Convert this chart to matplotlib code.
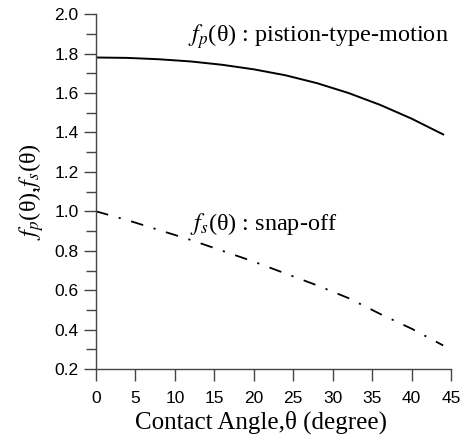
import numpy as np
from matplotlib import pyplot as plt

# data
theta = [0, 4, 8, 12, 16, 20, 24, 28, 32, 36, 40, 44]
f_p = [1.780, 1.778, 1.771, 1.760, 1.743, 1.720, 1.690, 1.650, 1.600, 1.540, 1.470, 1.390]
f_s = [1.000, 0.955, 0.905, 0.855, 0.800, 0.745, 0.685, 0.625, 0.560, 0.480, 0.405, 0.320]

x_ticks = [0, 5, 10, 15, 20, 25, 30, 35, 40, 45]
y_ticks = [0.2, 0.4, 0.6, 0.8, 1.0, 1.2, 1.4, 1.6, 1.8, 2.0]

plt.rcParams['mathtext.fontset'] = 'stix'
serif = ['Liberation Serif', 'DejaVu Serif']
sans = ['Liberation Sans', 'DejaVu Sans']

fig = plt.figure(figsize=(4.65, 4.41), dpi=100)
ax = fig.add_axes([0.2065, 0.163, 0.7635, 0.805])

ax.plot(theta, f_p, color='black', lw=1.4)
ax.plot(theta, f_s, color='black', lw=1.3, dashes=(7, 6, 1.2, 6))

ax.set_xlim(0, 45)
ax.set_ylim(0.2, 2.0)
ax.set_xticks(x_ticks)
ax.set_yticks(y_ticks)
ax.set_yticklabels(['%.1f' % v for v in y_ticks])
ax.set_yticks(np.arange(0.3, 2.0, 0.2), minor=True)

for s in ['top', 'right']:
    ax.spines[s].set_visible(False)
for s in ['left', 'bottom']:
    ax.spines[s].set_color('#444444')
    ax.spines[s].set_linewidth(1.0)

ax.tick_params(which='both', direction='out', color='#444444', width=1.0)
ax.tick_params(which='major', length=8.6, labelsize=12.5)
ax.tick_params(axis='y', which='major', pad=4)
ax.tick_params(axis='x', which='major', pad=7)
ax.tick_params(which='minor', length=7)
for lab in ax.get_xticklabels() + ax.get_yticklabels():
    lab.set_family(sans)

ax.set_xlabel('Contact Angle,θ (degree)', family=serif, fontsize=18)
ax.xaxis.set_label_coords(0.465, -0.118, transform=ax.transAxes)
ax.set_ylabel(r'$f_p$(θ),$f_s$(θ)', family=serif, fontsize=17.5, labelpad=6)

ax.text(11.7, 1.86, r'$f_p$(θ) : pistion-type-motion', family=serif, fontsize=17.5)
ax.text(11.9, 0.905, r'$f_s$(θ) : snap-off', family=serif, fontsize=17.5)

fig.savefig('out.png', dpi=100)
